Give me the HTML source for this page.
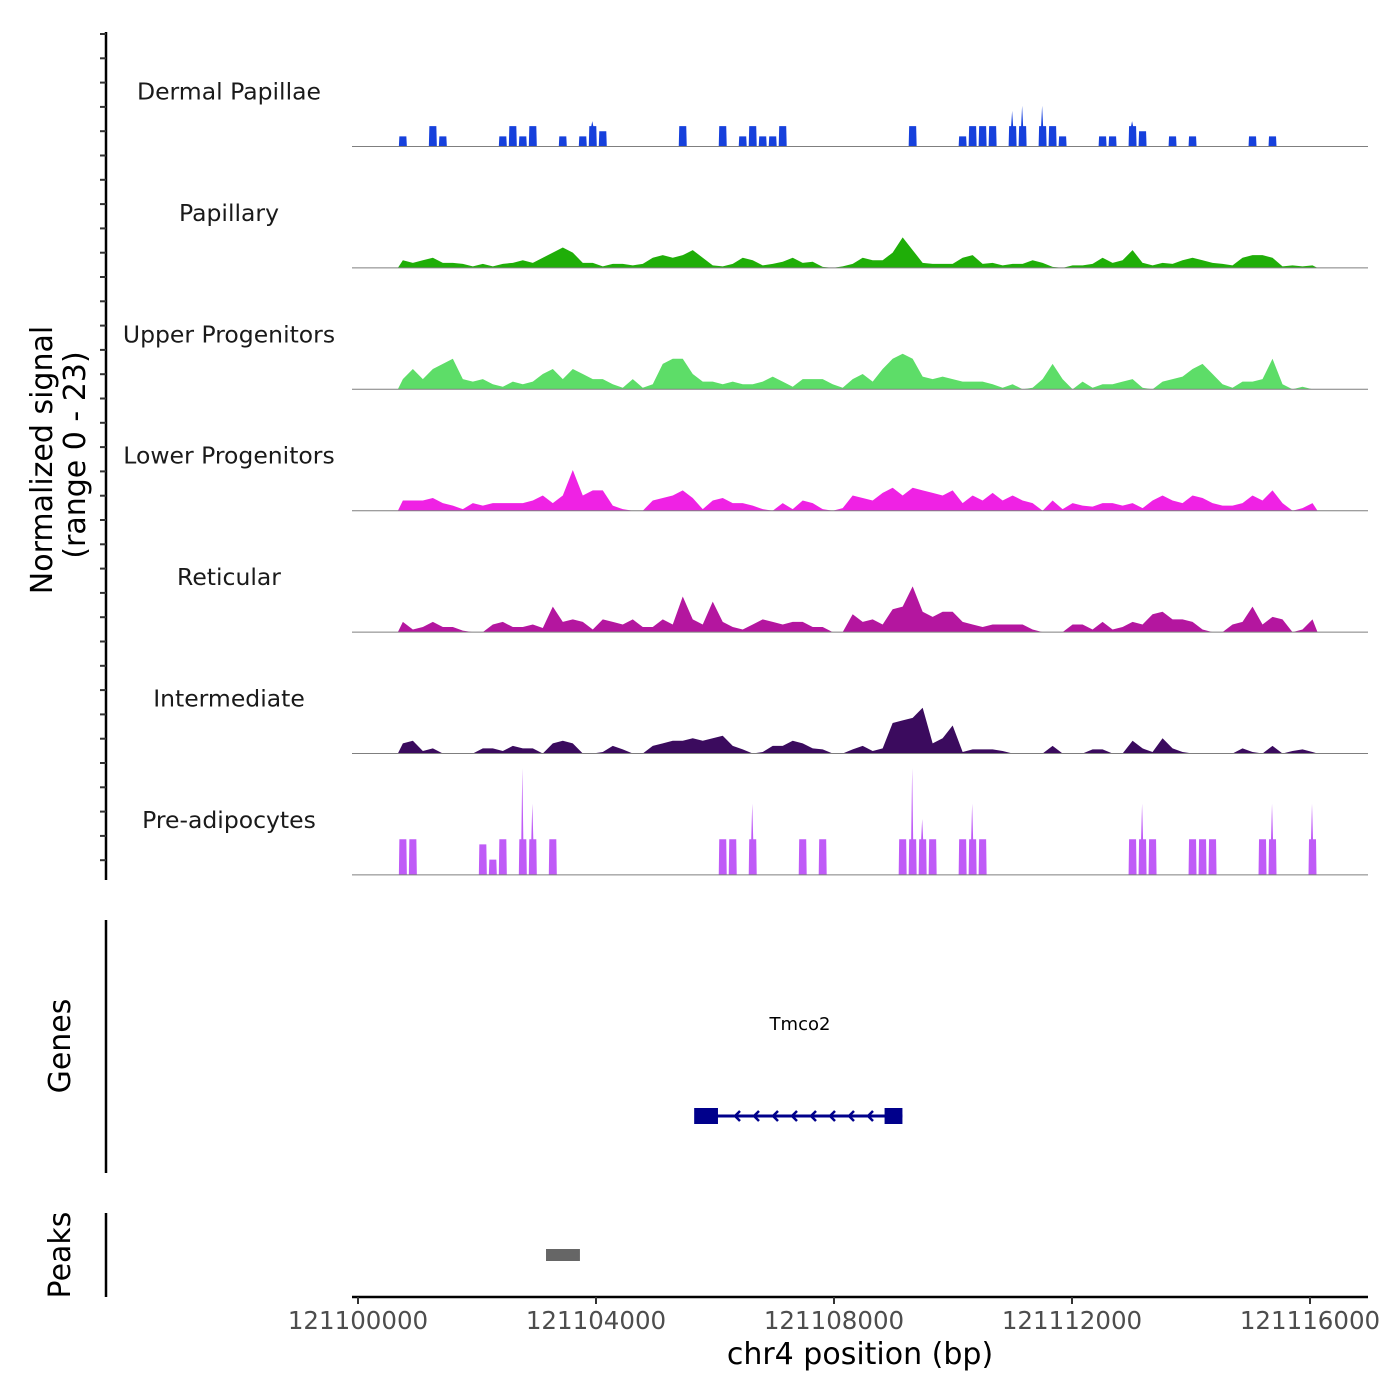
<!DOCTYPE html>
<html><head><meta charset="utf-8"><style>
html,body{margin:0;padding:0;background:#fff}
svg{display:block}
text{font-family:"DejaVu Sans","Liberation Sans",sans-serif}
</style></head><body>
<svg id="chart" width="1400" height="1400" viewBox="0 0 1400 1400" xmlns="http://www.w3.org/2000/svg">
<g id="tracks"></g>
<g id="axes"></g>
</svg>
<script>
const binStart = 121100670;
const binSize = 168;
const trackNames = ["Dermal Papillae","Papillary","Upper Progenitors","Lower Progenitors","Reticular","Intermediate","Pre-adipocytes"];
const trackColors = ["#1640dc","#1fae08","#5ddd68","#ef22e4","#b4169f","#3b0b5e","#bf5bf7"];
const dermalPapillae = [2,0,0,4,2,0,0,0,0,0,2,4,2,4,0,0,2,0,2,5,3,0,0,0,0,0,0,0,4,0,0,0,4,0,2,4,2,2,4,0,0,0,0,0,0,0,0,0,0,0,0,4,0,0,0,0,2,4,4,4,0,7,8,0,8,4,2,0,0,0,2,2,0,5,3,0,0,2,0,2,0,0,0,0,0,2,0,2,0,0,0,0];
const papillary = [1.5,1,1.5,2,1,1,0.8,0.3,0.8,0.3,0.8,1,1.5,1,2,3,4,3,1,1,0.3,0.8,0.8,0.5,0.8,2,2.5,2,2.5,3.5,2,0.5,0.3,0.8,2,1.5,0.5,0.8,1.2,2,1,1.2,0.2,0,0.3,0.8,2,1.5,1.5,3,6,3.5,1,0.8,0.8,0.8,2,2.5,0.8,1,0.5,0.8,0.8,1.5,1,0.2,0,0.5,0.5,0.8,2,1,1.5,3.5,1,0.5,1,0.8,1.5,2,1.5,1,0.8,0.5,2,2.5,2.5,2,0.3,0.5,0.3,0.5];
const upperProgenitors = [2,4,2,4,5,6,2,1.5,2,1,0.5,1.5,1,1.5,3,4,2,4,3,2,2,1,0.3,2,0.3,1,5,6,6,3,1.5,1.5,1,1.5,1,1,1.5,2.5,1.5,0.5,2,2,2,1,0.3,2,3,1.5,4,6,7,6,2.5,2,2.5,2,1.5,1.5,1.5,1,0.3,1,0,0.3,2,5,2,0,1.5,0.3,1,1,1.5,2,0.3,0,1.5,2,2.5,4,5,3,1,0.3,1.5,1.5,2,6,1,0,0.5,0];
const lowerProgenitors = [2,2,2,2.5,1.5,1,0.3,1.5,1,1.5,1.5,1.5,1.5,2,3,1.5,3,8,3,4,4,1,0.3,0,0,2,2.5,3,4,2.5,0.3,2,2.5,1.5,1.5,1,0.3,0,1.5,0.3,2,1.5,0.3,0,0.5,3,2.5,2,3.5,4.5,3,4.5,4,3.5,3,4,1.5,3,2,3.5,2,3,2,1.5,0,2,0.3,1.5,1,0.8,1.5,1.5,1,1.5,0.5,2,3,2,1.5,3,2.5,1.5,1,1,1.5,3,2,4,1.5,0,0.5,1.5];
const reticular = [2,0.5,1,2,1,1,0.3,0,0,1.5,2,1,1,1.5,0.8,5,2,2.5,2,0.5,2.5,2,1.5,2.5,1,1,2.5,1.5,7,2.5,1.5,6,2,1,0.5,1.5,2.5,2,1.5,2,2,1,1,0,0,3.5,2,2.5,1.5,4.5,5,9,4,3,4,4,2,1.5,1,1.5,1.5,1.5,1.5,0.5,0,0,0,1.5,1.5,0.5,2,0.5,1,2,1.5,3.5,4,2.5,2.5,2,0.5,0,0,1.5,2,5,1.5,3,2.5,0,0.5,2.5];
const intermediate = [2,2.5,0.5,1,0,0,0,0,1,1,0.5,1.5,1,1,0,2,2.5,2,0,0,0.3,1.5,0.8,0,0,1.5,2,2.5,2.5,3,2.5,3,3.5,1.5,0.8,0,0.3,1.5,1.5,2.5,2,1,0.8,0,0,0.8,1.5,0.5,1,6,6.5,7,9,2,3,5.5,0.3,0.8,0.8,0.8,0.5,0,0,0,0,1.5,0,0,0,0.8,0.8,0,0,2.5,1,0.3,3,1,0.3,0,0,0,0,0,1,0.3,0,1.5,0,0.5,0.8,0.3];
const preAdipocytes = [7,7,0,0,0,0,0,0,6,3,7,0,21,14,0,7,0,0,0,0,0,0,0,0,0,0,0,0,0,0,0,0,7,7,0,14,0,0,0,0,7,0,7,0,0,0,0,0,0,0,7,21,11,7,0,0,7,14,7,0,0,0,0,0,0,0,0,0,0,0,0,0,0,7,14,7,0,0,0,7,7,7,0,0,0,0,7,14,0,0,0,14];
const trackValues = [dermalPapillae,papillary,upperProgenitors,lowerProgenitors,reticular,intermediate,preAdipocytes];
const xTicks = [121100000,121104000,121108000,121112000,121116000];
const geneStart = 121105700, geneEnd = 121109150;
const exonStarts = [121105650, 121108850];
const exonEnds = [121106050, 121109150];
const peakStarts = [121103160];
const peakEnds = [121103730];
const yMax = 23;

const NS = "http://www.w3.org/2000/svg";
const xPx = bp => 358 + (bp - 121100000) * (952 / 16000);
const trackH = 121.4, firstBase = 146.5;
const yPx = (t, v) => firstBase + t * trackH - v * (117 / yMax);
function mk(tag, attrs, parent, text) {
  const e = document.createElementNS(NS, tag);
  for (const k in attrs) e.setAttribute(k, attrs[k]);
  if (text !== undefined) e.textContent = text;
  parent.appendChild(e);
  return e;
}
const tracks = document.getElementById("tracks");
const axes = document.getElementById("axes");

trackValues.forEach((vals, t) => {
  const base = yPx(t, 0);
  let d = "M" + xPx(binStart) + "," + base;
  if (t === 6 || t === 0) {
    const cap = t === 6 ? 7 : 4;
    vals.forEach((v, i) => {
      const x0 = xPx(binStart + i * binSize), x1 = xPx(binStart + (i + 1) * binSize);
      if (v > 0) {
        const w = x1 - x0;
        const b = Math.min(v, cap);
        d += " L" + (x0 + w * 0.1) + "," + base + " L" + (x0 + w * 0.15) + "," + yPx(t, b);
        if (v > cap) {
          d += " L" + (x0 + w * 0.35) + "," + yPx(t, b) + " L" + (x0 + w * 0.45) + "," + yPx(t, v) + " L" + (x0 + w * 0.55) + "," + yPx(t, b);
        }
        d += " L" + (x0 + w * 0.85) + "," + yPx(t, b) + " L" + (x0 + w * 0.9) + "," + base;
      }
    });
  } else {
    vals.forEach((v, i) => {
      const x = xPx(binStart + (i + 0.5) * binSize);
      d += " L" + x + "," + yPx(t, v);
    });
  }
  d += " L" + xPx(binStart + vals.length * binSize) + "," + base + " Z";
  const p = mk("path", {d: d, fill: trackColors[t]}, tracks);
  
  
  const bl = mk("line", {x1: 352, x2: 1368, y1: base, y2: base, stroke: "#7f7f7f", "stroke-width": 1}, tracks);
  
  
  const lab = mk("text", {x: 229, y: base - 47, "text-anchor": "middle", "font-size": 23.5, fill: "#1a1a1a"}, tracks, trackNames[t]);
  
  
});

const ya = mk("line", {x1: 106, x2: 106, y1: 32, y2: 880, stroke: "#000", "stroke-width": 2.5}, axes);


for (let y = 34; y <= 880; y += 24.3) {
  const tk = mk("line", {x1: 100, x2: 106, y1: y, y2: y, stroke: "#333", "stroke-width": 2}, axes);
  
  
}
const yt = mk("text", {transform: "translate(52,460) rotate(-90)", "text-anchor": "middle", "font-size": 30, fill: "#000"}, axes, "Normalized signal");


const yt2 = mk("text", {transform: "translate(85,455) rotate(-90)", "text-anchor": "middle", "font-size": 30, fill: "#000"}, axes, "(range 0 - 23)");



const ga = mk("line", {x1: 106, x2: 106, y1: 920, y2: 1173, stroke: "#000", "stroke-width": 2.5}, axes);


const gl = mk("text", {transform: "translate(70,1046) rotate(-90)", "text-anchor": "middle", "font-size": 30, fill: "#000"}, axes, "Genes");


const gline = mk("line", {x1: xPx(geneStart), x2: xPx(geneEnd), y1: 1116, y2: 1116, stroke: "#00008b", "stroke-width": 3}, axes);


exonStarts.forEach((s, i) => {
  const r = mk("rect", {x: xPx(s), y: 1108, width: xPx(exonEnds[i]) - xPx(s), height: 16, fill: "#00008b"}, axes);
  
  
});
for (let x = 735; x < 890; x += 19) {
  const a = mk("path", {d: `M${x+5},1111 L${x},1116 L${x+5},1121`, fill: "none", stroke: "#00008b", "stroke-width": 2.5}, axes);
  
  
}
const gn = mk("text", {x: 800, y: 1030, "text-anchor": "middle", "font-size": 18, fill: "#000"}, axes, "Tmco2");



const pa = mk("line", {x1: 106, x2: 106, y1: 1213, y2: 1297, stroke: "#000", "stroke-width": 2.5}, axes);


const pl = mk("text", {transform: "translate(70,1255) rotate(-90)", "text-anchor": "middle", "font-size": 30, fill: "#000"}, axes, "Peaks");


peakStarts.forEach((s, i) => {
  const r = mk("rect", {x: xPx(s), y: 1249, width: xPx(peakEnds[i]) - xPx(s), height: 12, fill: "#666"}, axes);
  
  
});

const xa = mk("line", {x1: 352, x2: 1368, y1: 1297, y2: 1297, stroke: "#000", "stroke-width": 2.5}, axes);


xTicks.forEach(v => {
  const x = xPx(v);
  const tk = mk("line", {x1: x, x2: x, y1: 1297, y2: 1304, stroke: "#333", "stroke-width": 2}, axes);
  
  
  const tl = mk("text", {x: x, y: 1329, "text-anchor": "middle", "font-size": 24.5, fill: "#4d4d4d"}, axes, String(v));
  
  
});
const xt = mk("text", {x: 860, y: 1364, "text-anchor": "middle", "font-size": 30, fill: "#000"}, axes, "chr4 position (bp)");


</script>
</body></html>
